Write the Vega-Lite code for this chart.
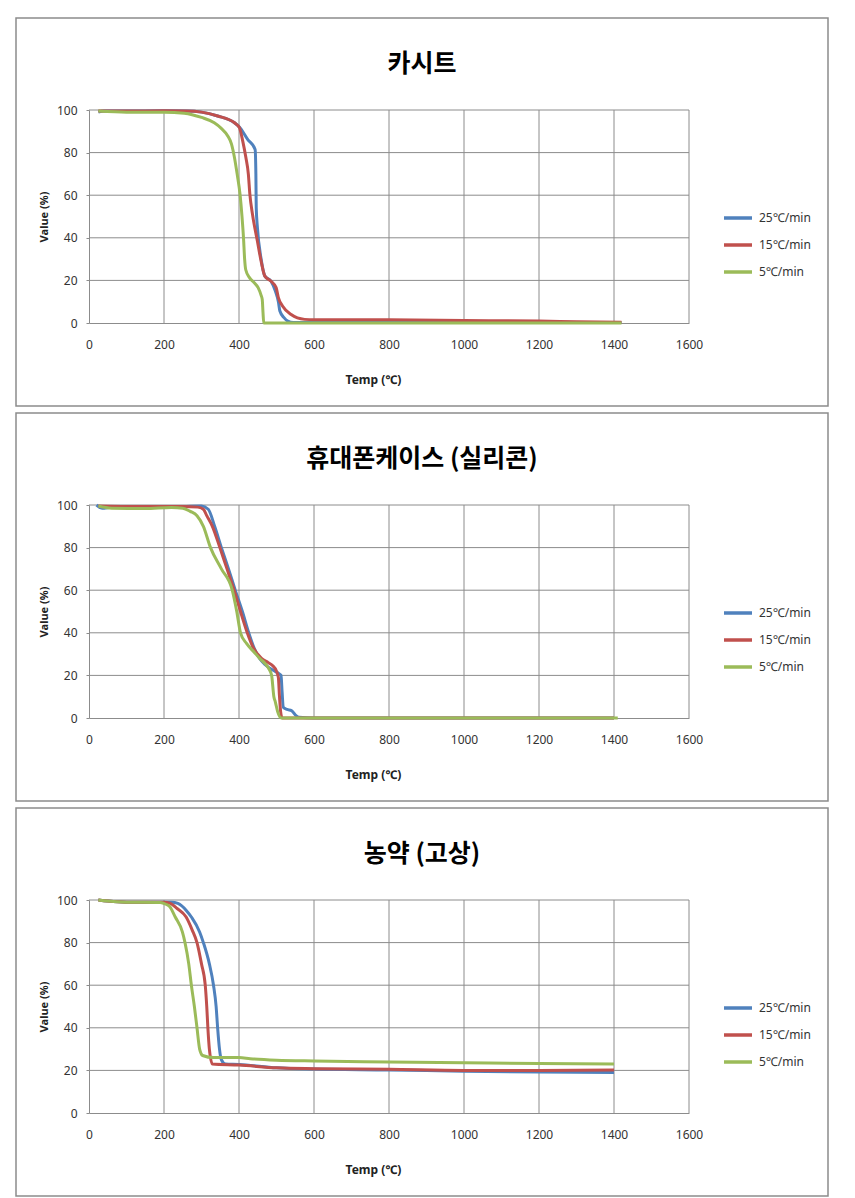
{
  "$schema": "https://vega.github.io/schema/vega-lite/v6.json",
  "padding": {"left": 15, "top": 17, "right": 5, "bottom": 0},
  "background": "white",
  "spacing": 5,
  "datasets": {
    "xg": [{"t": 200}, {"t": 400}, {"t": 600}, {"t": 800}, {"t": 1000}, {"t": 1200}, {"t": 1400}, {"t": 1600}],
    "yg": [{"v": 20}, {"v": 40}, {"v": 60}, {"v": 80}, {"v": 100}],
    "d": [
      {"p":"A","s":"25℃/min","t":25,"v":99},{"p":"A","s":"25℃/min","t":40,"v":99.5},{"p":"A","s":"25℃/min","t":100,"v":99.5},{"p":"A","s":"25℃/min","t":200,"v":99.6},{"p":"A","s":"25℃/min","t":260,"v":99.5},{"p":"A","s":"25℃/min","t":300,"v":99},{"p":"A","s":"25℃/min","t":343,"v":97.2},{"p":"A","s":"25℃/min","t":388,"v":94},{"p":"A","s":"25℃/min","t":401,"v":92},{"p":"A","s":"25℃/min","t":423,"v":86.2},{"p":"A","s":"25℃/min","t":443,"v":81.5},{"p":"A","s":"25℃/min","t":445,"v":70},{"p":"A","s":"25℃/min","t":446,"v":54},{"p":"A","s":"25℃/min","t":449,"v":45},{"p":"A","s":"25℃/min","t":459,"v":30},{"p":"A","s":"25℃/min","t":469,"v":22},{"p":"A","s":"25℃/min","t":485,"v":19.7},{"p":"A","s":"25℃/min","t":497,"v":15},{"p":"A","s":"25℃/min","t":505,"v":10},{"p":"A","s":"25℃/min","t":509,"v":5.6},{"p":"A","s":"25℃/min","t":520,"v":2.5},{"p":"A","s":"25℃/min","t":530,"v":0.9},{"p":"A","s":"25℃/min","t":545,"v":0.2},{"p":"A","s":"25℃/min","t":800,"v":0.2},{"p":"A","s":"25℃/min","t":1100,"v":0.2},{"p":"A","s":"25℃/min","t":1420,"v":0.2},
      {"p":"A","s":"15℃/min","t":25,"v":99.5},{"p":"A","s":"15℃/min","t":100,"v":99.5},{"p":"A","s":"15℃/min","t":200,"v":99.6},{"p":"A","s":"15℃/min","t":260,"v":99.5},{"p":"A","s":"15℃/min","t":300,"v":99},{"p":"A","s":"15℃/min","t":343,"v":97.2},{"p":"A","s":"15℃/min","t":388,"v":94},{"p":"A","s":"15℃/min","t":401,"v":91.7},{"p":"A","s":"15℃/min","t":410,"v":85.4},{"p":"A","s":"15℃/min","t":418,"v":78},{"p":"A","s":"15℃/min","t":425,"v":69.8},{"p":"A","s":"15℃/min","t":429,"v":60.4},{"p":"A","s":"15℃/min","t":436,"v":51},{"p":"A","s":"15℃/min","t":449,"v":38.5},{"p":"A","s":"15℃/min","t":459,"v":29},{"p":"A","s":"15℃/min","t":469,"v":22},{"p":"A","s":"15℃/min","t":485,"v":19.7},{"p":"A","s":"15℃/min","t":499,"v":16.6},{"p":"A","s":"15℃/min","t":505,"v":11.9},{"p":"A","s":"15℃/min","t":516,"v":8},{"p":"A","s":"15℃/min","t":539,"v":4},{"p":"A","s":"15℃/min","t":575,"v":1.7},{"p":"A","s":"15℃/min","t":600,"v":1.5},{"p":"A","s":"15℃/min","t":800,"v":1.5},{"p":"A","s":"15℃/min","t":1000,"v":1.2},{"p":"A","s":"15℃/min","t":1200,"v":0.9},{"p":"A","s":"15℃/min","t":1300,"v":0.6},{"p":"A","s":"15℃/min","t":1420,"v":0.3},
      {"p":"A","s":"5℃/min","t":25,"v":99.5},{"p":"A","s":"5℃/min","t":100,"v":99},{"p":"A","s":"5℃/min","t":200,"v":99},{"p":"A","s":"5℃/min","t":254,"v":98.5},{"p":"A","s":"5℃/min","t":300,"v":96.5},{"p":"A","s":"5℃/min","t":334,"v":94},{"p":"A","s":"5℃/min","t":352,"v":91.5},{"p":"A","s":"5℃/min","t":370,"v":87.8},{"p":"A","s":"5℃/min","t":380,"v":84},{"p":"A","s":"5℃/min","t":388,"v":77.6},{"p":"A","s":"5℃/min","t":395,"v":70},{"p":"A","s":"5℃/min","t":403,"v":60},{"p":"A","s":"5℃/min","t":408,"v":50},{"p":"A","s":"5℃/min","t":412,"v":40},{"p":"A","s":"5℃/min","t":415,"v":30},{"p":"A","s":"5℃/min","t":418,"v":25},{"p":"A","s":"5℃/min","t":428,"v":21.3},{"p":"A","s":"5℃/min","t":440,"v":19},{"p":"A","s":"5℃/min","t":451,"v":16.6},{"p":"A","s":"5℃/min","t":459,"v":13},{"p":"A","s":"5℃/min","t":462,"v":11},{"p":"A","s":"5℃/min","t":464,"v":5},{"p":"A","s":"5℃/min","t":466,"v":0},{"p":"A","s":"5℃/min","t":800,"v":0},{"p":"A","s":"5℃/min","t":1100,"v":0},{"p":"A","s":"5℃/min","t":1420,"v":0},
      {"p":"B","s":"25℃/min","t":20,"v":100},{"p":"B","s":"25℃/min","t":35,"v":98.5},{"p":"B","s":"25℃/min","t":60,"v":99},{"p":"B","s":"25℃/min","t":150,"v":99.2},{"p":"B","s":"25℃/min","t":250,"v":99.3},{"p":"B","s":"25℃/min","t":300,"v":99.5},{"p":"B","s":"25℃/min","t":318,"v":98},{"p":"B","s":"25℃/min","t":335,"v":90},{"p":"B","s":"25℃/min","t":353,"v":80},{"p":"B","s":"25℃/min","t":372,"v":70},{"p":"B","s":"25℃/min","t":390,"v":60},{"p":"B","s":"25℃/min","t":409,"v":50},{"p":"B","s":"25℃/min","t":426,"v":40},{"p":"B","s":"25℃/min","t":440,"v":33},{"p":"B","s":"25℃/min","t":455,"v":28},{"p":"B","s":"25℃/min","t":470,"v":25},{"p":"B","s":"25℃/min","t":490,"v":22.5},{"p":"B","s":"25℃/min","t":505,"v":21},{"p":"B","s":"25℃/min","t":512,"v":20},{"p":"B","s":"25℃/min","t":515,"v":12},{"p":"B","s":"25℃/min","t":518,"v":5},{"p":"B","s":"25℃/min","t":528,"v":4},{"p":"B","s":"25℃/min","t":540,"v":3.5},{"p":"B","s":"25℃/min","t":550,"v":1.5},{"p":"B","s":"25℃/min","t":560,"v":0.3},{"p":"B","s":"25℃/min","t":600,"v":0},{"p":"B","s":"25℃/min","t":1000,"v":0},{"p":"B","s":"25℃/min","t":1400,"v":0},
      {"p":"B","s":"15℃/min","t":25,"v":99.5},{"p":"B","s":"15℃/min","t":100,"v":99.3},{"p":"B","s":"15℃/min","t":250,"v":99.3},{"p":"B","s":"15℃/min","t":290,"v":99},{"p":"B","s":"15℃/min","t":305,"v":98},{"p":"B","s":"15℃/min","t":314,"v":95},{"p":"B","s":"15℃/min","t":329,"v":90},{"p":"B","s":"15℃/min","t":349,"v":80},{"p":"B","s":"15℃/min","t":368,"v":70},{"p":"B","s":"15℃/min","t":387,"v":60},{"p":"B","s":"15℃/min","t":404,"v":50},{"p":"B","s":"15℃/min","t":422,"v":40},{"p":"B","s":"15℃/min","t":438,"v":33},{"p":"B","s":"15℃/min","t":460,"v":28},{"p":"B","s":"15℃/min","t":478,"v":26},{"p":"B","s":"15℃/min","t":490,"v":24.5},{"p":"B","s":"15℃/min","t":500,"v":22},{"p":"B","s":"15℃/min","t":505,"v":19},{"p":"B","s":"15℃/min","t":508,"v":10},{"p":"B","s":"15℃/min","t":511,"v":3},{"p":"B","s":"15℃/min","t":515,"v":0},{"p":"B","s":"15℃/min","t":1000,"v":0},{"p":"B","s":"15℃/min","t":1400,"v":0},
      {"p":"B","s":"5℃/min","t":25,"v":99.5},{"p":"B","s":"5℃/min","t":60,"v":98.5},{"p":"B","s":"5℃/min","t":150,"v":98.3},{"p":"B","s":"5℃/min","t":220,"v":98.8},{"p":"B","s":"5℃/min","t":250,"v":98.5},{"p":"B","s":"5℃/min","t":270,"v":97},{"p":"B","s":"5℃/min","t":288,"v":95},{"p":"B","s":"5℃/min","t":305,"v":90},{"p":"B","s":"5℃/min","t":324,"v":80},{"p":"B","s":"5℃/min","t":353,"v":70},{"p":"B","s":"5℃/min","t":382,"v":60},{"p":"B","s":"5℃/min","t":394,"v":50},{"p":"B","s":"5℃/min","t":404,"v":40},{"p":"B","s":"5℃/min","t":420,"v":35},{"p":"B","s":"5℃/min","t":440,"v":31},{"p":"B","s":"5℃/min","t":455,"v":28},{"p":"B","s":"5℃/min","t":470,"v":25.5},{"p":"B","s":"5℃/min","t":480,"v":23},{"p":"B","s":"5℃/min","t":487,"v":20},{"p":"B","s":"5℃/min","t":493,"v":10},{"p":"B","s":"5℃/min","t":497,"v":7.5},{"p":"B","s":"5℃/min","t":503,"v":3},{"p":"B","s":"5℃/min","t":513,"v":0},{"p":"B","s":"5℃/min","t":1000,"v":0},{"p":"B","s":"5℃/min","t":1410,"v":0},
      {"p":"C","s":"25℃/min","t":25,"v":100},{"p":"C","s":"25℃/min","t":50,"v":99.5},{"p":"C","s":"25℃/min","t":100,"v":99},{"p":"C","s":"25℃/min","t":200,"v":99},{"p":"C","s":"25℃/min","t":220,"v":99},{"p":"C","s":"25℃/min","t":237,"v":98.4},{"p":"C","s":"25℃/min","t":260,"v":95},{"p":"C","s":"25℃/min","t":273,"v":92},{"p":"C","s":"25℃/min","t":295,"v":85},{"p":"C","s":"25℃/min","t":305,"v":80},{"p":"C","s":"25℃/min","t":321,"v":70},{"p":"C","s":"25℃/min","t":332,"v":60},{"p":"C","s":"25℃/min","t":339,"v":50},{"p":"C","s":"25℃/min","t":343,"v":40},{"p":"C","s":"25℃/min","t":348,"v":30},{"p":"C","s":"25℃/min","t":353,"v":25},{"p":"C","s":"25℃/min","t":364,"v":23},{"p":"C","s":"25℃/min","t":400,"v":22.8},{"p":"C","s":"25℃/min","t":500,"v":21.2},{"p":"C","s":"25℃/min","t":600,"v":20.6},{"p":"C","s":"25℃/min","t":800,"v":20.2},{"p":"C","s":"25℃/min","t":1000,"v":19.6},{"p":"C","s":"25℃/min","t":1200,"v":19.2},{"p":"C","s":"25℃/min","t":1400,"v":19},
      {"p":"C","s":"15℃/min","t":25,"v":100},{"p":"C","s":"15℃/min","t":50,"v":99.5},{"p":"C","s":"15℃/min","t":100,"v":99},{"p":"C","s":"15℃/min","t":200,"v":99},{"p":"C","s":"15℃/min","t":215,"v":98.5},{"p":"C","s":"15℃/min","t":235,"v":96},{"p":"C","s":"15℃/min","t":259,"v":92},{"p":"C","s":"15℃/min","t":275,"v":86},{"p":"C","s":"15℃/min","t":288,"v":80},{"p":"C","s":"15℃/min","t":300,"v":70},{"p":"C","s":"15℃/min","t":310,"v":60},{"p":"C","s":"15℃/min","t":314,"v":50},{"p":"C","s":"15℃/min","t":317,"v":40},{"p":"C","s":"15℃/min","t":321,"v":30},{"p":"C","s":"15℃/min","t":329,"v":23},{"p":"C","s":"15℃/min","t":400,"v":22.5},{"p":"C","s":"15℃/min","t":500,"v":21.2},{"p":"C","s":"15℃/min","t":600,"v":20.8},{"p":"C","s":"15℃/min","t":800,"v":20.5},{"p":"C","s":"15℃/min","t":1000,"v":20},{"p":"C","s":"15℃/min","t":1200,"v":20},{"p":"C","s":"15℃/min","t":1400,"v":20.2},
      {"p":"C","s":"5℃/min","t":25,"v":100},{"p":"C","s":"5℃/min","t":50,"v":99.5},{"p":"C","s":"5℃/min","t":100,"v":99},{"p":"C","s":"5℃/min","t":190,"v":98.8},{"p":"C","s":"5℃/min","t":205,"v":98},{"p":"C","s":"5℃/min","t":215,"v":97},{"p":"C","s":"5℃/min","t":230,"v":92},{"p":"C","s":"5℃/min","t":249,"v":85},{"p":"C","s":"5℃/min","t":256,"v":80},{"p":"C","s":"5℃/min","t":266,"v":70},{"p":"C","s":"5℃/min","t":273,"v":60},{"p":"C","s":"5℃/min","t":281,"v":50},{"p":"C","s":"5℃/min","t":288,"v":40},{"p":"C","s":"5℃/min","t":295,"v":30},{"p":"C","s":"5℃/min","t":303,"v":27},{"p":"C","s":"5℃/min","t":332,"v":26},{"p":"C","s":"5℃/min","t":400,"v":26},{"p":"C","s":"5℃/min","t":430,"v":25.5},{"p":"C","s":"5℃/min","t":500,"v":24.8},{"p":"C","s":"5℃/min","t":600,"v":24.4},{"p":"C","s":"5℃/min","t":800,"v":24},{"p":"C","s":"5℃/min","t":1000,"v":23.6},{"p":"C","s":"5℃/min","t":1200,"v":23.2},{"p":"C","s":"5℃/min","t":1400,"v":23}
    ]
  },
  "resolve": {"scale": {"color": "independent"}, "legend": {"color": "independent"}},
  "vconcat": [
    {
      "width": 812, "height": 388,
      "title": {"text": "카시트", "anchor": "middle", "frame": "group", "offset": -71, "baseline": "middle", "font": "Noto Sans CJK KR", "fontSize": 25, "fontWeight": "bold", "color": "#000000"},
      "layer": [
        {"data": {"name": "xg"}, "mark": {"type": "rule", "color": "#8c8c8c", "strokeWidth": 1},
         "encoding": {"x": {"field": "t", "type": "quantitative", "scale": {"domain": [0, 1600], "range": [73, 673]}},
                      "y": {"datum": 0, "type": "quantitative", "scale": {"domain": [0, 100], "range": [305, 92]}}, "y2": {"datum": 100}}},
        {"data": {"name": "yg"}, "mark": {"type": "rule", "color": "#8c8c8c", "strokeWidth": 1},
         "encoding": {"y": {"field": "v", "type": "quantitative"}, "x": {"datum": 0, "type": "quantitative"}, "x2": {"datum": 1600}}},
        {"data": {"name": "d"}, "transform": [{"filter": "datum.p === 'A'"}],
         "mark": {"type": "line", "strokeWidth": 3, "interpolate": "monotone"},
         "encoding": {
           "x": {"field": "t", "type": "quantitative", "axis": {"values": [0,200,400,600,800,1000,1200,1400,1600], "format": "d", "title": "Temp (℃)", "offset": -83, "ticks": false, "grid": false, "labelPadding": 16, "labelFlush": false, "labelOverlap": false, "titleX": 357, "titleY": 56, "titleBaseline": "middle"}},
           "y": {"field": "v", "type": "quantitative", "axis": {"values": [0,20,40,60,80,100], "title": "Value (%)", "offset": -73, "grid": false, "tickSize": 3, "labelPadding": 9, "titleX": -45, "titleBaseline": "middle", "titleFontSize": 11}},
           "color": {"field": "s", "type": "nominal", "scale": {"domain": ["25℃/min","15℃/min","5℃/min"], "range": ["#4F81BD","#C0504D","#9BBB59"]},
                     "legend": {"orient": "none", "legendX": 706, "legendY": 184, "title": null, "symbolType": "stroke", "symbolSize": 784, "symbolStrokeWidth": 3.5, "labelOffset": 5, "rowPadding": 4, "padding": 0}}
         }}
      ]
    },
    {
      "width": 812, "height": 388,
      "title": {"text": "휴대폰케이스 (실리콘)", "anchor": "middle", "frame": "group", "offset": -71, "baseline": "middle", "font": "Noto Sans CJK KR", "fontSize": 25, "fontWeight": "bold", "color": "#000000"},
      "layer": [
        {"data": {"name": "xg"}, "mark": {"type": "rule", "color": "#8c8c8c", "strokeWidth": 1},
         "encoding": {"x": {"field": "t", "type": "quantitative", "scale": {"domain": [0, 1600], "range": [73, 673]}},
                      "y": {"datum": 0, "type": "quantitative", "scale": {"domain": [0, 100], "range": [305, 92]}}, "y2": {"datum": 100}}},
        {"data": {"name": "yg"}, "mark": {"type": "rule", "color": "#8c8c8c", "strokeWidth": 1},
         "encoding": {"y": {"field": "v", "type": "quantitative"}, "x": {"datum": 0, "type": "quantitative"}, "x2": {"datum": 1600}}},
        {"data": {"name": "d"}, "transform": [{"filter": "datum.p === 'B'"}],
         "mark": {"type": "line", "strokeWidth": 3, "interpolate": "monotone"},
         "encoding": {
           "x": {"field": "t", "type": "quantitative", "axis": {"values": [0,200,400,600,800,1000,1200,1400,1600], "format": "d", "title": "Temp (℃)", "offset": -83, "ticks": false, "grid": false, "labelPadding": 16, "labelFlush": false, "labelOverlap": false, "titleX": 357, "titleY": 56, "titleBaseline": "middle"}},
           "y": {"field": "v", "type": "quantitative", "axis": {"values": [0,20,40,60,80,100], "title": "Value (%)", "offset": -73, "grid": false, "tickSize": 3, "labelPadding": 9, "titleX": -45, "titleBaseline": "middle", "titleFontSize": 11}},
           "color": {"field": "s", "type": "nominal", "scale": {"domain": ["25℃/min","15℃/min","5℃/min"], "range": ["#4F81BD","#C0504D","#9BBB59"]},
                     "legend": {"orient": "none", "legendX": 706, "legendY": 184, "title": null, "symbolType": "stroke", "symbolSize": 784, "symbolStrokeWidth": 3.5, "labelOffset": 5, "rowPadding": 4, "padding": 0}}
         }}
      ]
    },
    {
      "width": 812, "height": 388,
      "title": {"text": "농약 (고상)", "anchor": "middle", "frame": "group", "offset": -71, "baseline": "middle", "font": "Noto Sans CJK KR", "fontSize": 25, "fontWeight": "bold", "color": "#000000"},
      "layer": [
        {"data": {"name": "xg"}, "mark": {"type": "rule", "color": "#8c8c8c", "strokeWidth": 1},
         "encoding": {"x": {"field": "t", "type": "quantitative", "scale": {"domain": [0, 1600], "range": [73, 673]}},
                      "y": {"datum": 0, "type": "quantitative", "scale": {"domain": [0, 100], "range": [305, 92]}}, "y2": {"datum": 100}}},
        {"data": {"name": "yg"}, "mark": {"type": "rule", "color": "#8c8c8c", "strokeWidth": 1},
         "encoding": {"y": {"field": "v", "type": "quantitative"}, "x": {"datum": 0, "type": "quantitative"}, "x2": {"datum": 1600}}},
        {"data": {"name": "d"}, "transform": [{"filter": "datum.p === 'C'"}],
         "mark": {"type": "line", "strokeWidth": 3, "interpolate": "monotone"},
         "encoding": {
           "x": {"field": "t", "type": "quantitative", "axis": {"values": [0,200,400,600,800,1000,1200,1400,1600], "format": "d", "title": "Temp (℃)", "offset": -83, "ticks": false, "grid": false, "labelPadding": 16, "labelFlush": false, "labelOverlap": false, "titleX": 357, "titleY": 56, "titleBaseline": "middle"}},
           "y": {"field": "v", "type": "quantitative", "axis": {"values": [0,20,40,60,80,100], "title": "Value (%)", "offset": -73, "grid": false, "tickSize": 3, "labelPadding": 9, "titleX": -45, "titleBaseline": "middle", "titleFontSize": 11}},
           "color": {"field": "s", "type": "nominal", "scale": {"domain": ["25℃/min","15℃/min","5℃/min"], "range": ["#4F81BD","#C0504D","#9BBB59"]},
                     "legend": {"orient": "none", "legendX": 706, "legendY": 184, "title": null, "symbolType": "stroke", "symbolSize": 784, "symbolStrokeWidth": 3.5, "labelOffset": 5, "rowPadding": 4, "padding": 0}}
         }}
      ]
    }
  ],
  "config": {
    "view": {"stroke": "#8c8c8c", "strokeWidth": 1.5},
    "font": "Noto Sans",
    "axis": {"labelFont": "Noto Sans, Noto Sans CJK KR", "labelFontSize": 12, "labelColor": "#333333", "titleFont": "Noto Sans, Noto Sans CJK KR", "titleFontSize": 12, "titleFontWeight": "bold", "titleColor": "#222222", "domainColor": "#8c8c8c", "tickColor": "#8c8c8c"},
    "legend": {"labelFont": "Noto Sans, Noto Sans CJK KR", "labelFontSize": 12, "labelColor": "#333333"}
  }
}
